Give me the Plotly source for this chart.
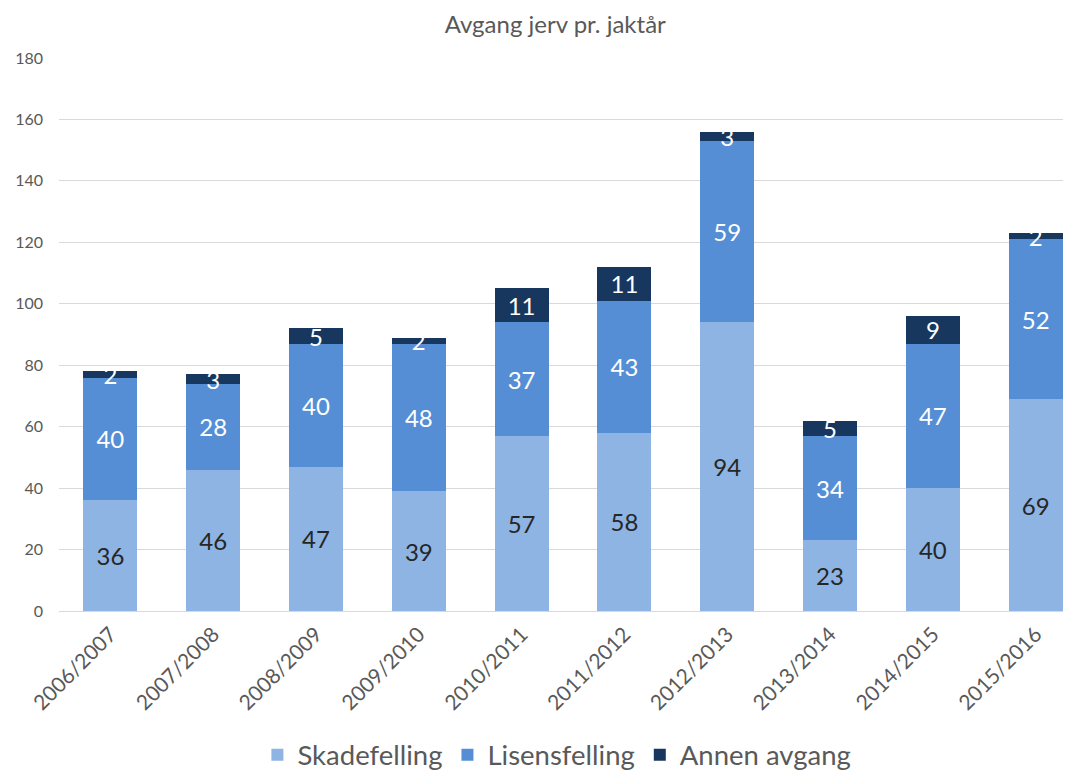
import plotly.graph_objects as go

categories = ["2006/2007", "2007/2008", "2008/2009", "2009/2010", "2010/2011",
              "2011/2012", "2012/2013", "2013/2014", "2014/2015", "2015/2016"]
skadefelling = [36, 46, 47, 39, 57, 58, 94, 23, 40, 69]
lisensfelling = [40, 28, 40, 48, 37, 43, 59, 34, 47, 52]
annen_avgang = [2, 3, 5, 2, 11, 11, 3, 5, 9, 2]
y_ticks = [0, 20, 40, 60, 80, 100, 120, 140, 160, 180]

FONT = "Lato, 'Open Sans', sans-serif"
GREY = "#595959"

fig = go.Figure()
series = [
    ("Skadefelling", skadefelling, "#8EB4E3", "#262626"),
    ("Lisensfelling", lisensfelling, "#558ED5", "#FFFFFF"),
    ("Annen avgang", annen_avgang, "#17375E", "#FFFFFF"),
]
for name, vals, color, tcolor in series:
    fig.add_trace(go.Bar(
        name=name, x=categories, y=vals,
        marker=dict(color=color, line=dict(width=0)),
        text=[str(v) for v in vals], texttemplate="%{text}",
        textposition="inside", insidetextanchor="middle",
        constraintext="none", textangle=0,
        textfont=dict(family=FONT, size=24, color=tcolor),
        hoverinfo="x+y+name",
    ))

fig.update_layout(
    barmode="stack", bargap=0.475,
    width=1071, height=771,
    margin=dict(l=51, r=8, t=50, b=168, autoexpand=False),
    paper_bgcolor="white", plot_bgcolor="white",
    title=dict(text="Avgang jerv pr. jaktår", x=0.511, xanchor="center",
               y=0.978, yanchor="middle",
               font=dict(family=FONT, size=24, color=GREY)),
    font=dict(family=FONT, color=GREY),
    legend=dict(orientation="h", x=0.492, xanchor="center", y=-0.260, yanchor="middle",
                font=dict(family=FONT, size=27.5, color=GREY), traceorder="normal",
                itemwidth=30),
    showlegend=True,
)
fig.update_xaxes(
    range=[-0.5, 9.344], tickangle=-45, showgrid=False, showline=False,
    tickfont=dict(family=FONT, size=21, color=GREY), ticks="",
    ticklabelstandoff=6, automargin=False,
)
fig.update_yaxes(
    range=[0, 180], tickvals=y_ticks, showgrid=True, gridcolor="#D9D9D9", gridwidth=1.3,
    zeroline=True, zerolinecolor="#D9D9D9", zerolinewidth=1.3,
    tickfont=dict(family=FONT, size=16, color=GREY), ticks="",
    ticklabelstandoff=15, automargin=False,
)
fig.write_html("out.html")
